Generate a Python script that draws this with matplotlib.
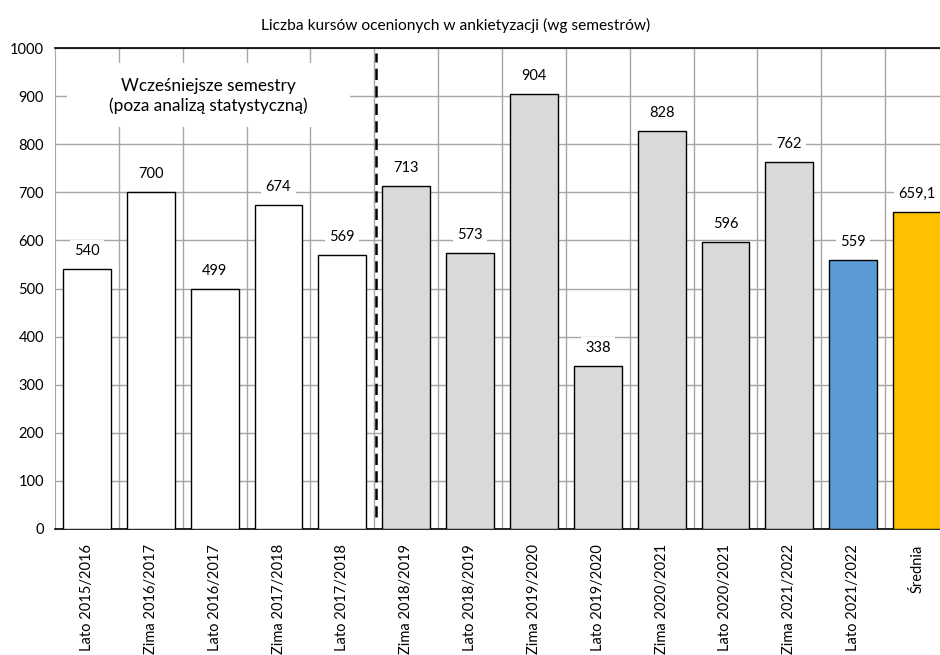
import numpy as np
import matplotlib
matplotlib.use("Agg")
import matplotlib.pyplot as plt
from matplotlib.patches import Rectangle

plt.rcParams['font.family'] = ['Lato', 'DejaVu Sans']

# data
semesters = ["Lato 2015/2016", "Zima 2016/2017", "Lato 2016/2017", "Zima 2017/2018",
             "Lato 2017/2018", "Zima 2018/2019", "Lato 2018/2019", "Zima 2019/2020",
             "Lato 2019/2020", "Zima 2020/2021", "Lato 2020/2021", "Zima 2021/2022",
             "Lato 2021/2022", "Średnia"]
courses = [540, 700, 499, 674, 569, 713, 573, 904, 338, 828, 596, 762, 559, 659.1]
n_earlier = 5          # semesters outside the statistical analysis
title = "Liczba kursów ocenionych w ankietyzacji (wg semestrów)"
note = "Wcześniejsze semestry\n(poza analizą statystyczną)"

# styles
colors = ["white"] * n_earlier + ["#d9d9d9"] * 7 + ["#5b9bd5", "#ffc000"]
grid_col = "#a6a6a6"

fig = plt.figure(figsize=(9.4, 6.55), dpi=100)
ax = fig.add_axes([55 / 940, 1 - 529 / 655, 894 / 940, 481 / 655])

x = np.arange(len(semesters))
bars = ax.bar(x, courses, width=0.75, color=colors, edgecolor="black", linewidth=1.0, zorder=3)

ax.set_xlim(-0.5, len(semesters) - 0.5)
ax.set_ylim(0, 1000)
ax.set_yticks(np.arange(0, 1001, 100))
ax.set_xticks(x)
ax.set_xticklabels(semesters, rotation=90, fontsize=10.5)
ax.tick_params(axis="y", labelsize=10.5, length=0, pad=8)
ax.tick_params(axis="x", length=0, pad=11)
ax.set_xticks(np.arange(0.5, len(semesters) - 1, 1), minor=True)
ax.tick_params(which="minor", length=0)
ax.grid(axis="y", which="major", color=grid_col, linewidth=1.0, zorder=0)
ax.grid(axis="x", which="minor", color=grid_col, linewidth=1.0, zorder=0)
ax.set_axisbelow(True)

ax.spines["left"].set_color(grid_col)
ax.spines["right"].set_visible(False)
ax.spines["top"].set_color("black")
ax.spines["top"].set_linewidth(1.2)
ax.spines["bottom"].set_color("black")
ax.spines["bottom"].set_linewidth(1.2)

# value labels above the bars
for b, v in zip(bars, courses):
    label = f"{v:g}".replace(".", ",")
    ax.annotate(label, (b.get_x() + b.get_width() / 2, b.get_height()),
                xytext=(0, 13), textcoords="offset points", ha="center", va="center",
                fontsize=10.5, zorder=5,
                bbox=dict(boxstyle="square,pad=0.3", facecolor="white", edgecolor="none"))

# separator between earlier semesters and the analysed ones
ax.plot([n_earlier - 0.5 + 0.02] * 2, [25, 990], color="black", linewidth=1.8,
        dashes=(4.5, 2.5), zorder=4)

# note with white background
ax.add_patch(Rectangle((-0.31, 836), 4.43, 133, facecolor="white", edgecolor="none", zorder=2))
ax.text(1.9, 900, note, ha="center", va="center", fontsize=12.4, linespacing=1.3, zorder=5)

fig.text(456 / 940, 1 - 25 / 655, title, ha="center", va="center", fontsize=11.2)

fig.savefig("out.png", dpi=100)
